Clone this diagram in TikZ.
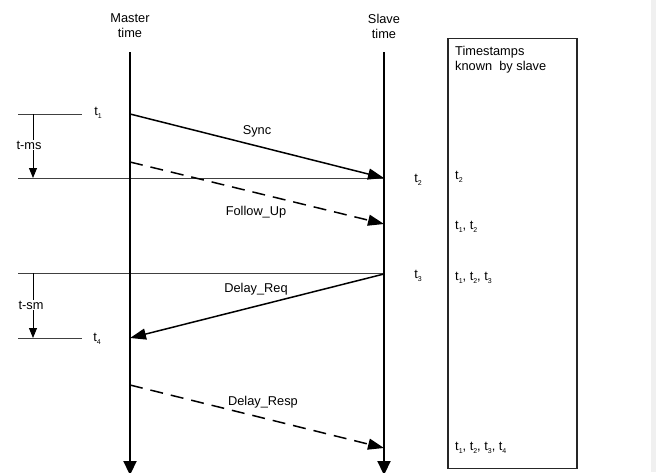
\documentclass[tikz,border=0pt]{standalone}
\usepackage{fontspec}
\setmainfont{Liberation Sans}
\usetikzlibrary{arrows.meta}
\newcommand{\ts}[1]{t\raisebox{-0.45ex}{\fontsize{7}{7}\selectfont #1}}
\tikzset{
  lbl/.style={font=\fontsize{12.8}{15}\selectfont, inner sep=0pt},
  timeline/.style={line width=2.2pt, -{Triangle[length=14pt,width=13pt]}},
  msg/.style={line width=1.5pt, -{Triangle[length=16pt,width=11pt]}},
  dmsg/.style={msg, dash pattern=on 13pt off 8pt},
  thin/.style={line width=1pt, draw=black!75},
  small/.style={line width=1pt, -{Triangle[length=10pt,width=8pt]}},
}
\begin{document}
\begin{tikzpicture}[x=1pt,y=-1pt]
\path[use as bounding box] (0,0) rectangle (656,472);
\clip (0,0) rectangle (656,472);
\fill[black!6] (651,0) rectangle (656,472);
% headers
\node[lbl, align=center] (mh) at (130,26) {Master\\time};
\node[lbl, align=center] (sh) at (384,26) {Slave\\time};
% coordinates on lines
\coordinate (mtop) at (130,52);
\coordinate (mbot) at (130,475);
\coordinate (stop) at (384,52);
\coordinate (sbot) at (384,475);
\coordinate (m1) at (130,114);
\coordinate (s2) at (384,178);
\coordinate (m1b) at (130,162);
\coordinate (s2b) at (384,224);
\coordinate (s3) at (384,274);
\coordinate (m4) at (130,338);
\coordinate (m5) at (130,385);
\coordinate (s6) at (384,448);
% reference horizontal lines
\coordinate (h1a) at (18,114); \coordinate (h1b) at (82,114);
\coordinate (h2a) at (18,178);
\coordinate (h3a) at (18,273); \coordinate (h3b) at (384,273);
\coordinate (h4a) at (18,338); \coordinate (h4b) at (82,338);
\draw[thin] (h1a) -- (h1b);
\draw[thin] (h2a) -- (s2);
\draw[thin] (h3a) -- (h3b);
\draw[thin] (h4a) -- (h4b);
\coordinate (a1) at (33,114); \coordinate (a2) at (33,178);
\coordinate (a3) at (33,273); \coordinate (a4) at (33,338);
\draw[small] (a1) -- (a2);
\draw[small] (a3) -- (a4);
\node[lbl, fill=white, inner sep=1pt] (tms) at (29,145) {t-ms};
\node[lbl, fill=white, inner sep=1pt] (tsm) at (31,305) {t-sm};
\node[lbl] (t1) at (98,113) {\ts{1}};
\node[lbl] (t4) at (97,339) {\ts{4}};
\node[lbl] (t2) at (418,180) {\ts{2}};
\node[lbl] (t3) at (418,276) {\ts{3}};
% timelines
\draw[timeline] (mtop) -- (mbot);
\draw[timeline] (stop) -- (sbot);
% messages
\draw[msg] (m1) -- (s2);
\draw[dmsg] (m1b) -- (s2b);
\draw[msg] (s3) -- (m4);
\draw[dmsg] (m5) -- (s6);
\node[lbl] (sync) at (257,131) {Sync};
\node[lbl] (fu) at (256,212) {Follow\_Up};
\node[lbl, fill=white, inner sep=1pt] (dreq) at (256,289) {Delay\_Req};
\node[lbl, fill=white, inner sep=1pt] (dresp) at (263,402) {Delay\_Resp};
% box
\node[draw=black!85, line width=1.1pt, minimum width=129pt, minimum height=430pt, inner sep=0pt] (box) at (512.5,253.5) {};
\node[lbl, anchor=north west, align=left] (bt) at (455,46) {Timestamps\\known\ \ by slave};
\node[lbl, anchor=west] (b1) at (455,177) {\ts{2}};
\node[lbl, anchor=west] (b2) at (455,227) {\ts{1}, \ts{2}};
\node[lbl, anchor=west] (b3) at (455,278) {\ts{1}, \ts{2}, \ts{3}};
\node[lbl, anchor=west] (b4) at (455,448) {\ts{1}, \ts{2}, \ts{3}, \ts{4}};
\end{tikzpicture}
\end{document}
